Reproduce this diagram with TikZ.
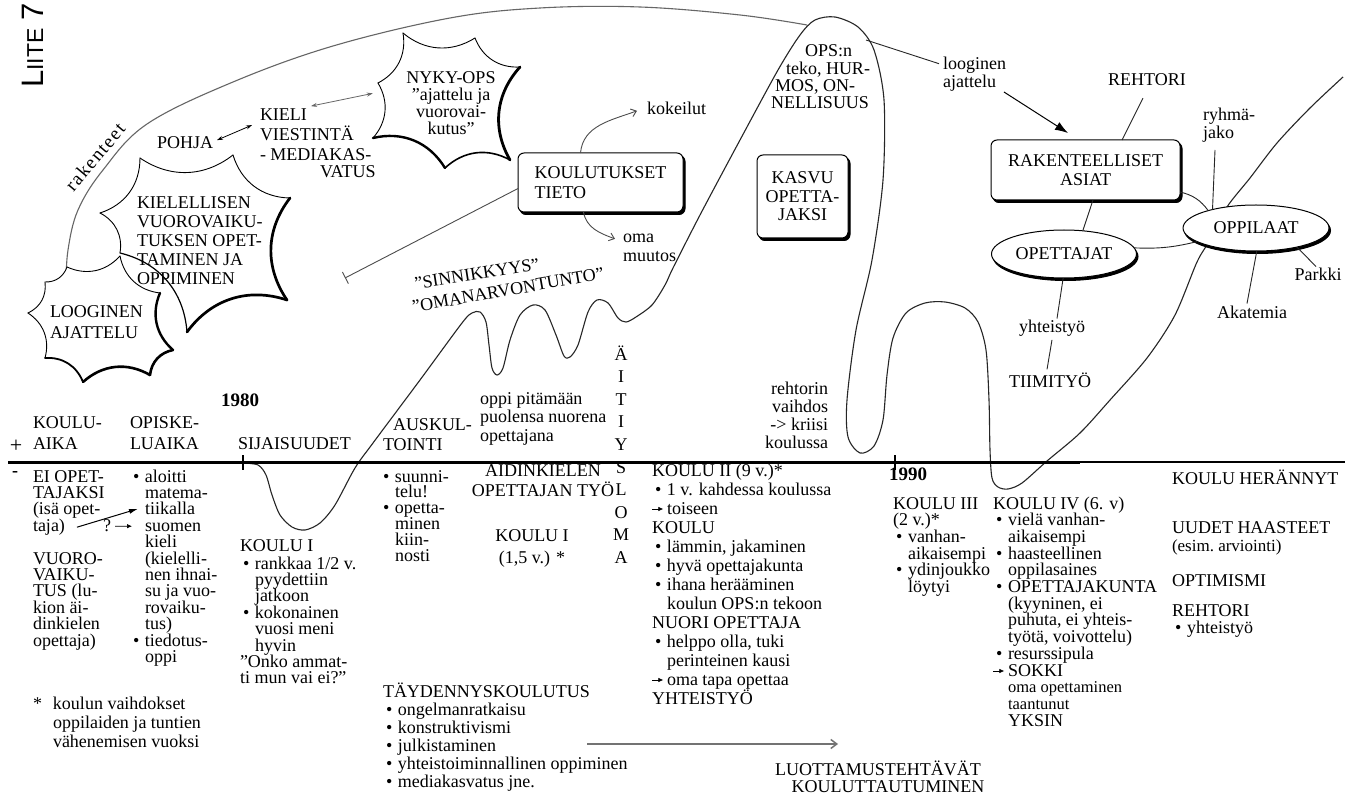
\documentclass[tikz,border=0pt]{standalone}
\usepackage{fontspec}
\setmainfont{Liberation Serif}
\newfontfamily\sansf{Liberation Sans}
\usetikzlibrary{arrows.meta,calc,shapes.geometric,shadows}

\newcommand{\bl}{\makebox[12pt][l]{\textbullet}}
\newcommand{\ind}{\hspace*{12pt}}
\newcommand{\gb}{\hspace*{3pt}\makebox[12pt][l]{\textbullet}}
\newcommand{\gi}{\hspace*{15pt}}
\newcommand{\iarr}{\tikz[baseline=-5pt]\draw[line width=0.7pt,-{Latex[length=5pt,width=4.5pt]}] (0pt,0pt) -- (11pt,0pt);}
\newcommand{\ga}{\makebox[15pt][l]{\iarr}}
\newcommand{\smf}{\fontsize{16.5}{17}\selectfont}

\newcommand{\blk}[6][base west]{%
  \foreach \tx [count=\i] in {#6} {%
    \node[anchor=#1] (#2-\i) at ({#3},{#4+(\i-1)*#5}) {\tx};
  }%
}

\newcommand{\burst}[2]{%
  \foreach \px/\py/\pw [count=\k] in {#2} {%
    \coordinate (#1-\k) at (\px,\py);
    \expandafter\xdef\csname bw#1\k\endcsname{\pw}%
    \xdef\bn{\k}%
  }%
  \fill[white] (#1-1) \foreach \k in {2,...,\bn} { to[bend right=36] (#1-\k) } to[bend right=36] (#1-1);
  \foreach \k in {1,...,\bn} {%
    \pgfmathtruncatemacro\kn{mod(\k,\bn)+1}%
    \edef\lw{\csname bw#1\k\endcsname}%
    \draw[line width=\lw pt, line cap=round] (#1-\k) to[bend right=36] (#1-\kn);
  }%
}

\begin{document}
\begin{tikzpicture}[x=1pt,y=-1pt,
  every node/.style={inner sep=0pt, outer sep=0pt, font=\fontsize{18}{20}\selectfont},
  life/.style={line width=1.1pt, black!85, line join=round},
  sbox/.style={draw, line width=1pt, rounded corners=6pt, fill=white, inner sep=4pt,
     copy shadow={fill=black, draw=black, shadow xshift=2pt, shadow yshift=-2.5pt}},
  sell/.style={ellipse, draw, line width=1pt, fill=white, inner sep=2pt,
     copy shadow={fill=black, draw=black, shadow xshift=1.5pt, shadow yshift=-2.5pt}},
  con/.style={line width=0.9pt, black!85},
  barb/.style={-{Straight Barb[length=5pt,width=8pt]}},
]
\useasboundingbox (0,0) rectangle (1346,799);
\fill[white] (0,0) rectangle (1346,799);

% LIITE 7
\node[rotate=90, anchor=base west, font=\sansf] (liite) at (43,88)
  {{\fontsize{31}{31}\selectfont L}{\fontsize{23}{23}\selectfont IITE}\hspace{8pt}{\fontsize{31}{31}\selectfont 7}};

% big arc "rakenteet"
\draw[line width=1.1pt, black!60] plot[smooth, tension=0.6] coordinates
  {(66,285) (68,250) (78,210) (103,170) (147,124) (233,82) (333,46) (450,18) (540,8) (640,7) (740,15) (807,25)};
\node[rotate=50, font=\fontsize{19}{19}\selectfont\addfontfeatures{LetterSpace=8}] (rakl) at (95,157) {rakenteet};

% life line
\draw[life] plot[smooth, tension=0.5] coordinates {
 (243,463) (258,465) (266,475) (272,495) (280,515) (292,527) (305,530) (320,523) (335,505) (355,468)
 (373,443) (420,380) (462,323) (472,313) (480,312) (486,322) (489,345) (492,368) (497,375) (503,368)
 (510,340) (520,315) (533,305) (545,310) (556,335) (564,356) (570,357) (578,345) (588,312) (597,300)
 (608,303) (618,318) (626,322) (636,317) (652,305) (665,285) (673,268) (700,215) (740,140) (778,70)
 (800,35) (815,20) (835,17) (858,27) (874,50) (884,100) (883,180) (872,260) (856,330) (847,400)
 (848,437) (860,453) (874,446) (883,420) (887,375) (893,338) (906,313) (925,303) (945,302) (965,308)
 (978,322) (986,350) (989,400) (990,450) (992,478) (998,487) (1008,489) (1022,483) (1047,461)
 (1080,433) (1110,400) (1147,358) (1175,315) (1197,262) (1210,240) (1227,207) (1250,178) (1277,143)
 (1310,108) (1343,77)};

% clouds (explosion bubbles)
\burst{kc}{140/158/0.9, 233/155/0.9, 290/198/2.7, 287/300/2.7, 187/332/1.2, 120/253/0.9, 100/213/0.9}
\burst{lc}{67/267/0.9, 120/256/0.9, 160/293/2.4, 173/350/2.6, 150/375/2.6, 83/382/1.8, 45/358/0.9, 28/313/0.9, 45/282/0.9}
\burst{nc}{403/33/0.9, 475/38/0.9, 520/67/2.8, 510/160/1.6, 445/168/2.4, 373/138/0.9, 378/83/0.9}

\blk[base]{nyky}{451}{84}{16.7}{NYKY-OPS, ”ajattelu ja, vuorovai-, kutus”}
\blk{kiel}{137}{209}{19}{KIELELLISEN, VUOROVAIKU-, TUKSEN OPET-, TAMINEN JA, OPPIMINEN}
\blk{loog}{50}{318}{20}{LOOGINEN, AJATTELU}
\node[anchor=base west] (pohja) at (157,149) {POHJA};
\blk{kieli}{260}{121}{20}{KIELI, VIESTINTÄ, - MEDIAKAS-}
\node[anchor=base west] (vatus) at (320,178) {VATUS};

\draw[line width=0.8pt, {Stealth[length=6pt,width=4pt]}-{Stealth[length=6pt,width=4pt]}]
  ($(pohja.east)+(4,-3)$) -- ($(kieli-1.west)+(-8,10)$);
\draw[line width=0.8pt, black!60, {Stealth[length=6pt,width=4pt]}-{Stealth[length=6pt,width=4pt]}]
  ($(kieli-1.east)+(4,-9)$) -- ($(nyky-2.west)+(-39,-3)$);

% KOULUTUKSET box
\node[sbox, minimum width=165pt, minimum height=59pt, align=left] (kt) at (600.5,182.5) {KOULUTUKSET\\TIETO};
\node[anchor=base west] (kok) at (647,115) {kokeilut};
\blk{oma}{623}{243}{19}{oma, muutos}
\draw[con, black!70, barb] ($(kt.north)+(-20,0)$) to[out=85,in=200] ($(kok.west)+(-10,2)$);
\draw[con, black!70, barb] ($(kt.south)+(-17,0)$) to[out=-80,in=160] ($(oma-1.west)+(-8,0)$);
\coordinate (tb) at (345,278);
\draw[con, black!70, {Bar[width=13pt]}-] (tb) -- ($(kt.west)+(0,6)$);

\node[rotate=9] (sin1) at (477,274) {”SINNIKKYYS”};
\node[rotate=10] (sin2) at (508,290) {”OMANARVONTUNTO”};

% OPS text in tall loop
\node[anchor=base west] (ops1) at (805,57) {OPS:n};
\node[anchor=base west] (ops2) at (786,75) {teko, HUR-};
\node[anchor=base west] (ops3) at (775,92) {MOS, ON-};
\node[anchor=base west] (ops4) at (771,109) {NELLISUUS};

\node[sbox, minimum width=91pt, minimum height=83pt, align=center, font=\fontsize{18}{18.5}\selectfont] (kasvu) at (802.5,196.5) {KASVU\\OPETTA-\\JAKSI};

% right top cluster
\blk{logi}{943}{70}{18}{looginen, ajattelu}
\coordinate (lg0) at (866,40);
\draw[con] (lg0) -- ($(logi-1.west)+(-4,-2)$);
\node[sbox, minimum width=189pt, minimum height=60pt, align=center, font=\fontsize{18}{19.5}\selectfont] (rak) at (1085.5,170) {RAKENTEELLISET\\ASIAT};
\draw[line width=1pt, -{Latex[length=13pt,width=9pt]}] ($(logi-2.base east)+(8,4)$) -- ($(rak.north)+(-17.5,-7)$);
\node[anchor=base] (reh) at (1147,86) {REHTORI};
\blk{ryh}{1203}{121}{18}{ryhmä-, jako}
\node[sell, minimum width=146pt, minimum height=46pt] (opl) at (1256,228) {OPPILAAT};
\node[sell, minimum width=145pt, minimum height=48pt] (opj) at (1064,254) {OPETTAJAT};
\node[anchor=base] (parkki) at (1318,281) {Parkki};
\node[anchor=base] (akat) at (1252,319) {Akatemia};
\node[anchor=base] (yht) at (1052,333) {yhteistyö};
\node[anchor=base] (tiim) at (1050,388) {TIIMITYÖ};
\draw[con] ($(reh.south)+(-4,12)$) -- ($(rak.north)+(36.5,0)$);
\draw[con] ($(ryh-2.base west)+(12,11)$) -- (opl.157);
\draw[con] ($(rak.south)+(7.5,0)$) -- (opj.51);
\draw[con] ($(rak.east)+(0,22)$) to[bend left=20] (opl.160);
\draw[con] (opj.5) to[bend right=8] (opl.193);
\draw[con] (opl.335) -- ($(parkki.north)+(-2,-2)$);
\draw[con] (opl.272) -- ($(akat.north)+(-5,-3)$);
\draw[con] (opj.268) -- ($(yht.north)+(5,-2)$);
\draw[con] ($(yht.south)+(0,3)$) -- ($(tiim.north)+(-3,-4)$);

% timeline
\draw[line width=3pt] (8,462) -- (1080,462);
\draw[line width=2pt] (1080,462) -- (1345,462);
\draw[line width=1.5pt] (243,455) -- (243,470);
\draw[line width=1.5pt] (895,455) -- (895,470);
\node[font=\fontsize{22}{22}\selectfont] (plus) at (16,446) {+};
\node[font=\bfseries\fontsize{18}{18}\selectfont] (minus) at (15,474) {-};
\node[anchor=base, font=\bfseries\fontsize{19}{19}\selectfont] (y1980) at (240,406) {1980};
\node[anchor=base west, font=\bfseries\fontsize{19}{19}\selectfont] (y1990) at (889,480) {1990};

\blk{h1}{33}{428}{21}{KOULU-, AIKA}
\blk{h2}{130}{428}{21}{OPISKE-, LUAIKA}
\node[anchor=base west] (sij) at (238,449) {SIJAISUUDET};
\node[anchor=base west] (ausk) at (393,430) {AUSKUL-};
\node[anchor=base west] (toin) at (383,450) {TOINTI};
\blk{oppi}{480}{404}{18.5}{oppi pitämään, puolensa nuorena, opettajana}
\blk[base]{ait}{621}{360}{22.6}{Ä,I,T,I,Y,S,L,O,M,A}
\blk[base east]{rehv}{828}{394}{18}{rehtorin, vaihdos, -> kriisi, koulussa}

% lower columns
\blk{cA1}{33}{482}{16.4}{EI OPET-, TAJAKSI, {(isä opet-}, {taja)}}
\blk{cA2}{33}{564}{16.4}{VUORO-, VAIKU-, {TUS (lu-}, kion äi-, dinkielen, {opettaja)}}
\blk{cB}{133}{482}{16.4}{\bl aloitti, \ind matema-, \ind tiikalla, \ind suomen, \ind kieli, {\ind (kielelli-}, \ind nen ihnai-, \ind su ja vuo-, \ind rovaiku-, {\ind tus)}, \bl tiedotus-, \ind oppi}
\node[anchor=base east] (qm) at (111,531.2) {?};
\draw[line width=0.7pt, -{Latex[length=5pt,width=4.5pt]}] ($(qm.base east)+(4,-5)$) -- ($(cB-4.base west)+(-1,-5)$);
\draw[line width=1pt, -{Latex[length=9pt,width=5pt]}] ($(cA1-4.base east)+(12,-4)$) -- ($(cB-3.base west)+(5,-6)$);

\node[anchor=base west] (cC0) at (240,551) {KOULU I};
\blk{cC}{240}{569}{16.4}{{\gb rankkaa 1/2 v.}, \gi pyydettiin, \gi jatkoon, \gb kokonainen, \gi vuosi meni, \gi hyvin, ”Onko ammat-, ti mun vai ei?”}

\blk{cD1}{383}{482}{15}{\bl suunni-, \ind telu!}
\blk{cD2}{383}{513}{16}{\bl opetta-, \ind minen, \ind kiin-, \ind nosti}

\blk[base]{cE}{543}{476}{20}{ÄIDINKIELEN, OPETTAJAN TYÖ}
\blk[base]{cE2}{532}{541}{22}{KOULU I, {(1,5 v.) *}}

\blk{cF}{652}{476}{19}{{KOULU II (9 v.)*}, \gb 1 v. kahdessa koulussa, \ga toiseen, KOULU, {\gb lämmin, jakaminen}, \gb hyvä opettajakunta, \gb ihana herääminen, \gi koulun OPS:n tekoon, NUORI OPETTAJA, {\gb helppo olla, tuki}, \gi perinteinen kausi, \ga oma tapa opettaa, YHTEISTYÖ}

\blk{cG}{893}{509}{16.7}{KOULU III, {(2 v.)*}, \gb vanhan-, \gi aikaisempi, \gb ydinjoukko, \gi löytyi}
\blk{cH}{993}{509}{16.7}{{KOULU IV (6. v)}, \gb vielä vanhan-, \gi aikaisempi, \gb haasteellinen, \gi oppilasaines, \gb OPETTAJAKUNTA, {\gi (kyyninen, ei}, {\gi puhuta, ei yhteis-}, {\gi työtä, voivottelu)}, \gb resurssipula, \ga SOKKI, {\gi\smf oma opettaminen}, {\gi\smf taantunut}, \gi YKSIN}

\node[anchor=base west] (her) at (1172,484) {KOULU HERÄNNYT};
\node[anchor=base west] (uud) at (1172,533) {UUDET HAASTEET};
\node[anchor=base west, font=\fontsize{17}{17}\selectfont] (esim) at (1172,551) {(esim.\ arviointi)};
\node[anchor=base west] (opt) at (1172,586) {OPTIMISMI};
\blk{reh3}{1172}{616}{17.5}{REHTORI, \gb yhteistyö}

\blk{fn}{33}{709}{19}{\makebox[20pt][l]{*}koulun vaihdokset, \hspace*{20pt}oppilaiden ja tuntien, \hspace*{20pt}vähenemisen vuoksi}
\blk{tay}{383}{697}{18}{TÄYDENNYSKOULUTUS, \gb ongelmanratkaisu, \gb konstruktivismi, \gb julkistaminen, \gb yhteistoiminnallinen oppiminen, \gb mediakasvatus jne.}
\coordinate (ar1) at (587,744);
\coordinate (ar2) at (838,744);
\draw[black!55, line width=1.5pt, -{Straight Barb[length=6pt,width=9pt]}] (ar1) -- (ar2);
\node[anchor=base] (luo1) at (878,775) {LUOTTAMUSTEHTÄVÄT};
\node[anchor=base] (luo2) at (888,792) {KOULUTTAUTUMINEN};
\end{tikzpicture}
\end{document}
